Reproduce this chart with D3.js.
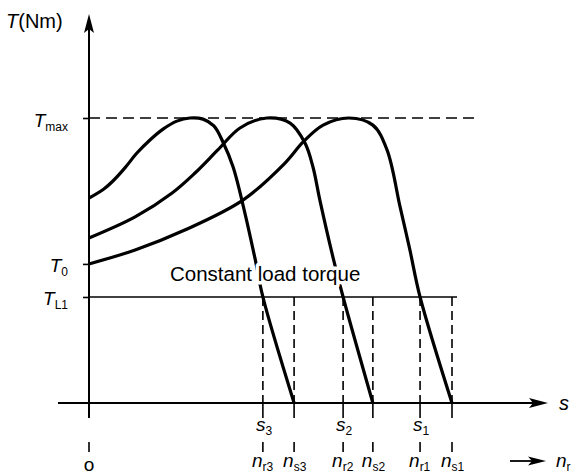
<!DOCTYPE html>
<html>
<head>
<meta charset="utf-8">
<script src="https://cdn.jsdelivr.net/npm/d3@7"></script>
<style>
  html, body { margin: 0; padding: 0; background: #fff; }
  svg { display: block; font-family: "Liberation Sans", Arial, Helvetica, sans-serif; }
</style>
</head>
<body>
<svg id="chart" width="576" height="475"></svg>
<script>
// ---- data (speed normalised to n_s1 = 1, torque normalised to T_max = 1) ----
const curveNames = ["s3", "s2", "s1"];
const curveS3 = [[0,0.719],[0.041,0.751],[0.066,0.779],[0.099,0.825],[0.132,0.877],[0.168,0.923],[0.204,0.961],[0.242,0.989],[0.278,1.0],[0.314,0.996],[0.344,0.972],[0.369,0.916],[0.397,0.828],[0.421,0.712],[0.457,0.509],[0.479,0.372],[0.565,0]];
const curveS2 = [[0,0.579],[0.127,0.653],[0.229,0.737],[0.292,0.807],[0.355,0.888],[0.416,0.965],[0.490,1.0],[0.554,0.982],[0.595,0.912],[0.617,0.828],[0.636,0.712],[0.672,0.512],[0.700,0.372],[0.782,0]];
const curveS1 = [[0,0.488],[0.127,0.537],[0.264,0.607],[0.424,0.712],[0.540,0.842],[0.590,0.916],[0.645,0.975],[0.716,1.0],[0.782,0.975],[0.821,0.888],[0.857,0.688],[0.884,0.537],[0.912,0.372],[1.0,0]];

const yTickValues = [1.0, 0.488, 0.372];
const yTickSubs = ["max", "0", "L1"];
const loadTorque = 0.372;

const speedTicks = [0.479, 0.565, 0.700, 0.782, 0.912, 1.0];
const speedSubs = ["r3", "s3", "r2", "s2", "r1", "s1"];
const slipTicks = [0.479, 0.700, 0.912];
const slipSubs = ["3", "2", "1"];

// ---- scales ----
const x = d3.scaleLinear().domain([0, 1]).range([89, 452]);
const y = d3.scaleLinear().domain([0, 1]).range([403, 118]);

const svg = d3.select("#chart");

// T_max dashed line
svg.append("line")
  .attr("x1", x(0)).attr("x2", 480)
  .attr("y1", y(1)).attr("y2", y(1))
  .attr("stroke", "#000").attr("stroke-width", 1.6)
  .attr("stroke-dasharray", "11,6");

// constant load torque line
svg.append("line")
  .attr("x1", x(0)).attr("x2", 457)
  .attr("y1", y(loadTorque)).attr("y2", y(loadTorque))
  .attr("stroke", "#000").attr("stroke-width", 1.6);

// vertical dashed lines above axis
svg.selectAll("line.vdash").data(speedTicks).enter().append("line")
  .attr("class", "vdash")
  .attr("x1", d => x(d)).attr("x2", d => x(d))
  .attr("y1", y(loadTorque)).attr("y2", y(0))
  .attr("stroke", "#000").attr("stroke-width", 1.6)
  .attr("stroke-dasharray", "9,5");

// short dashes below axis
const colsBelow = [0].concat(speedTicks);
svg.selectAll("line.bd1").data(speedTicks).enter().append("line")
  .attr("x1", d => x(d)).attr("x2", d => x(d))
  .attr("y1", y(0)).attr("y2", y(0) + 15)
  .attr("stroke", "#000").attr("stroke-width", 1.6);
svg.selectAll("line.bd2").data(colsBelow).enter().append("line")
  .attr("x1", d => x(d)).attr("x2", d => x(d))
  .attr("y1", y(0) + 39).attr("y2", y(0) + 49)
  .attr("stroke", "#000").attr("stroke-width", 1.6);

// torque-speed curves
const line = d3.line().x(d => x(d[0])).y(d => y(d[1])).curve(d3.curveCatmullRom.alpha(0.5));
svg.selectAll("path.curve").data([curveS3, curveS2, curveS1]).enter().append("path")
  .attr("class", "curve")
  .attr("d", line)
  .attr("fill", "none").attr("stroke", "#000").attr("stroke-width", 3.2)
  .attr("stroke-linejoin", "round");

// x axis (s) with arrow
svg.append("line")
  .attr("x1", 58).attr("x2", 535)
  .attr("y1", y(0)).attr("y2", y(0))
  .attr("stroke", "#000").attr("stroke-width", 2);
svg.append("path")
  .attr("d", `M548,${y(0)} L529,${y(0) - 5} L533,${y(0)} L529,${y(0) + 5} Z`)
  .attr("fill", "#000");
svg.append("text").attr("x", 559).attr("y", y(0) + 7)
  .attr("font-size", 20).attr("font-style", "italic").text("s");

// y axis with arrow
svg.append("line")
  .attr("x1", x(0)).attr("x2", x(0))
  .attr("y1", y(0) + 15).attr("y2", 28)
  .attr("stroke", "#000").attr("stroke-width", 2);
svg.append("path")
  .attr("d", `M${x(0)},14 L${x(0) - 5},33 L${x(0)},29 L${x(0) + 5},33 Z`)
  .attr("fill", "#000");

const yt = svg.append("text").attr("x", 6).attr("y", 28).attr("font-size", 20);
yt.append("tspan").attr("font-style", "italic").text("T");
yt.append("tspan").text("(Nm)");

// y ticks via d3 axis
const yAxis = d3.axisLeft(y).tickValues(yTickValues).tickSize(6).tickPadding(20).tickFormat("");
const yg = svg.append("g").attr("transform", `translate(${x(0)},0)`).call(yAxis);
yg.select(".domain").remove();
yg.selectAll(".tick line").attr("stroke", "#000").attr("stroke-width", 1.6);
yg.selectAll(".tick text").each(function(d, i) {
  const t = d3.select(this)
    .attr("x", -21).attr("dy", null).attr("y", 8)
    .attr("text-anchor", "end").attr("fill", "#000")
    .attr("font-family", "'Liberation Sans', Arial, sans-serif");
  t.append("tspan").attr("font-size", 19).attr("font-style", "italic").text("T");
  t.append("tspan").attr("font-size", 12).attr("dy", 4).text(yTickSubs[i]);
});

// label on load line (white halo breaks the curves behind it)
svg.append("text").attr("x", 170).attr("y", 281)
  .attr("font-size", 20.5)
  .attr("stroke", "#fff").attr("stroke-width", 7).attr("stroke-linejoin", "round")
  .attr("paint-order", "stroke").attr("fill", "#000")
  .text("Constant load torque");

// slip labels
svg.selectAll("text.slip").data(slipTicks).enter().append("text")
  .attr("class", "slip")
  .attr("x", d => x(d) - 7).attr("y", 431)
  .each(function(d, i) {
    const t = d3.select(this);
    t.append("tspan").attr("font-size", 19).attr("font-style", "italic").text("s");
    t.append("tspan").attr("font-size", 12).attr("dy", 4).text(slipSubs[i]);
  });

// speed labels
svg.selectAll("text.speed").data(speedTicks).enter().append("text")
  .attr("class", "speed")
  .attr("x", d => x(d) - 11).attr("y", 467)
  .each(function(d, i) {
    const t = d3.select(this);
    t.append("tspan").attr("font-size", 19).attr("font-style", "italic").text("n");
    t.append("tspan").attr("font-size", 12).attr("dy", 4).text(speedSubs[i]);
  });

// origin
svg.append("text").attr("x", x(0)).attr("y", 471).attr("text-anchor", "middle")
  .attr("font-size", 19).text("o");

// n_r arrow
svg.append("line").attr("x1", 510).attr("x2", 533).attr("y1", 461).attr("y2", 461)
  .attr("stroke", "#000").attr("stroke-width", 1.8);
svg.append("path").attr("d", "M546,461 L528,456.5 L532,461 L528,465.5 Z").attr("fill", "#000");
const nr = svg.append("text").attr("x", 556).attr("y", 467);
nr.append("tspan").attr("font-size", 19).attr("font-style", "italic").text("n");
nr.append("tspan").attr("font-size", 12).attr("dy", 4).text("r");
</script>
</body>
</html>
